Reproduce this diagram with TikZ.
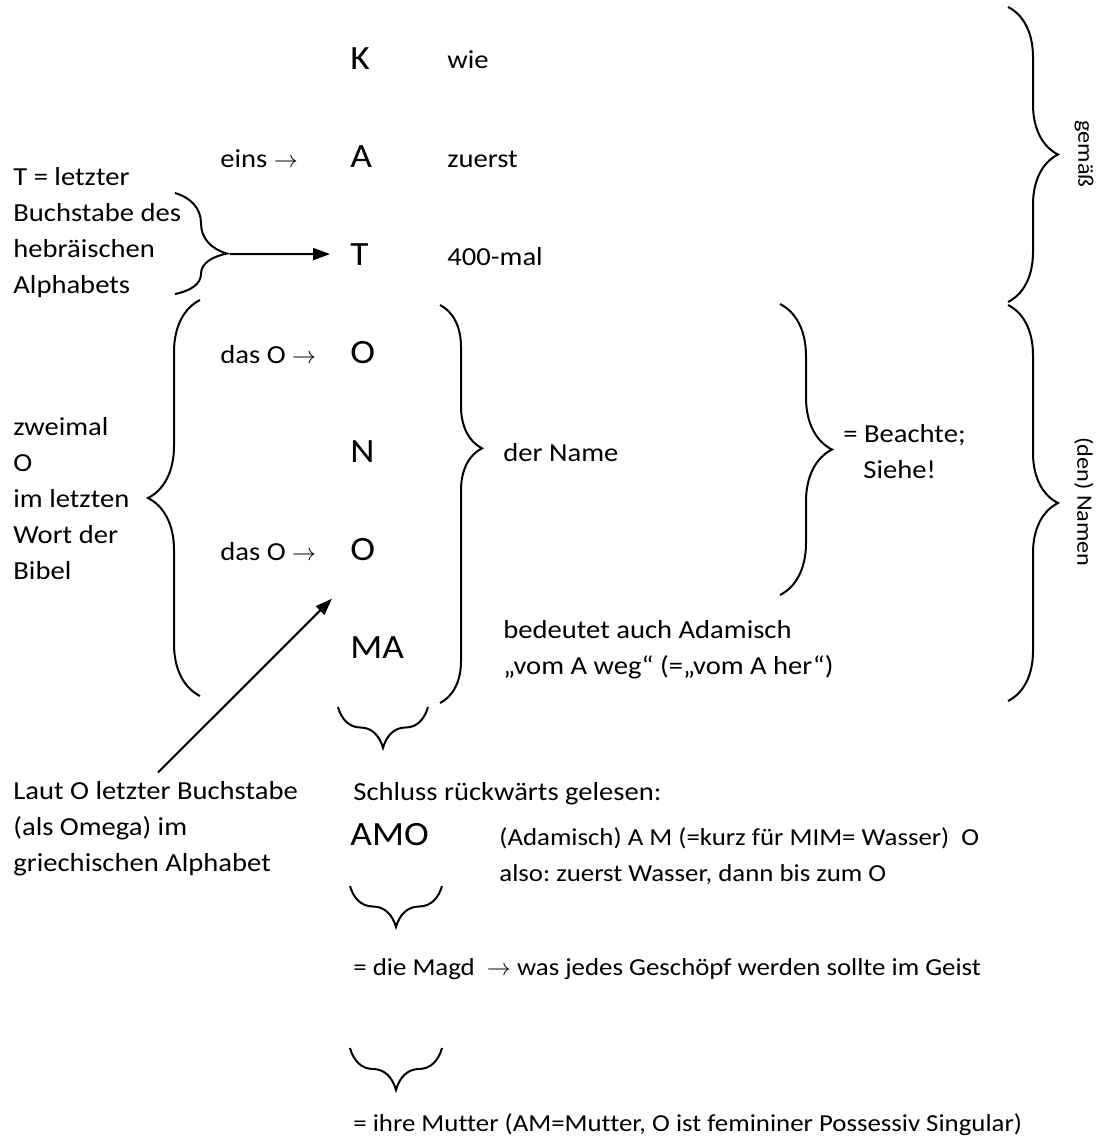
\documentclass[tikz,border=0pt]{standalone}
\usepackage{fontspec}
\setmainfont{Carlito}[FakeStretch=1.1, Ligatures=CommonOff]
\usepackage{tikz}
\usetikzlibrary{arrows.meta,positioning,decorations.pathreplacing}
\tikzset{
  txt/.style={inner sep=0pt, anchor=base west, align=left, font=\fontsize{13}{18}\selectfont},
  txtsm/.style={txt, font=\fontsize{12.2}{18}\selectfont},
  letter/.style={inner sep=0pt, anchor=base west, font=\fontsize{17}{20}\selectfont},
  side/.style={inner sep=0pt, rotate=-90, font=\fontsize{11}{13}\selectfont},
  brc/.style={decorate, decoration={brace, amplitude=#1}, line width=1pt},
  farr/.style={-{Triangle[length=8.5pt,width=6pt]}, line width=1pt}
}
\frenchspacing

\begin{document}
\begin{tikzpicture}[x=0.5pt, y=-0.5pt]
\useasboundingbox (0,0) rectangle (1099,1140);
% the word, letter by letter
\node[letter] (K) at (350,69) {K};
\node[letter] (A) at (350,167) {A};
\node[letter] (T) at (350,265) {T};
\node[letter] (O1) at (350,363) {O};
\node[letter] (N) at (350,462) {N};
\node[letter] (O2) at (350,560) {O};
\node[letter] (MA) at (350,658) {MA};
\node[txt] (wie) at (447,68) {wie};
\node[txt] (zuerst) at (447,167) {zuerst};
\node[txt] (mal) at (447,265) {400-mal};
\node[txt] (eins) at (220,167) {eins $\rightarrow$};
\node[txt] (das1) at (220,363) {das O $\rightarrow$};
\node[txt] (das2) at (220,560) {das O $\rightarrow$};
% left notes (base = last line)
\node[txt] (hebr) at (13,293) {T = letzter\\Buchstabe des\\hebräischen\\Alphabets};
\node[txt] (bibel) at (13,579) {zweimal\\O\\im letzten\\Wort der\\Bibel};
\node[txt] (laut) at (13,871) {Laut O letzter Buchstabe\\(als Omega) im\\griechischen Alphabet};
% right notes
\node[txt] (name) at (503,461) {der Name};
\node[txt] (beachte) at (843,478) {= Beachte;\\\hspace*{10pt}Siehe!};
\node[txt] (adam) at (503,674) {bedeutet auch Adamisch\\„vom A weg“ (=„vom A her“)};
\node[side] (gemaess) at (1084,154) {gemäß};
\node[side] (namen) at (1084,502) {(den) Namen};
% reading backwards
\node[txt] (schluss) at (353,800) {Schluss rückwärts gelesen:};
\node[letter] (AMO) at (350,845) {AMO};
\node[txtsm] (amo) at (499,881) {(Adamisch) A M (=kurz für MIM= Wasser)~~O\\also: zuerst Wasser, dann bis zum O};
\node[txtsm] (magd) at (353,975) {= die Magd~~$\rightarrow$ was jedes Geschöpf werden sollte im Geist};
\node[txtsm] (mutter) at (353,1131) {= ihre Mutter (AM=Mutter, O ist femininer Possessiv Singular)};
% braces
\draw[brc=26pt, decoration={aspect=0.6}] (175,193) -- (175,294);
\draw[brc=26pt] (200,696) -- (200,300);
\draw[brc=21pt, decoration={aspect=0.36}] (440,305) -- (440,703);
\draw[brc=26pt] (780,304) -- (780,595);
\draw[brc=25pt] (1008,7) -- (1008,302);
\draw[brc=25pt] (1008,305) -- (1008,701);
\draw[brc=20.5pt] (428,707) -- (338,707);
\draw[brc=20.5pt] (442,886) -- (350,886);
\draw[brc=21pt] (442,1048) -- (350,1048);
% arrows
\coordinate (hebtip) at (230,254);
\draw[farr] (hebtip) -- ([xshift=-10pt]T.west);
\draw[farr] ([xshift=72.5pt,yshift=4pt]laut.north west) -- ([xshift=-9pt,yshift=-19pt]O2.south west);
\end{tikzpicture}
\end{document}
